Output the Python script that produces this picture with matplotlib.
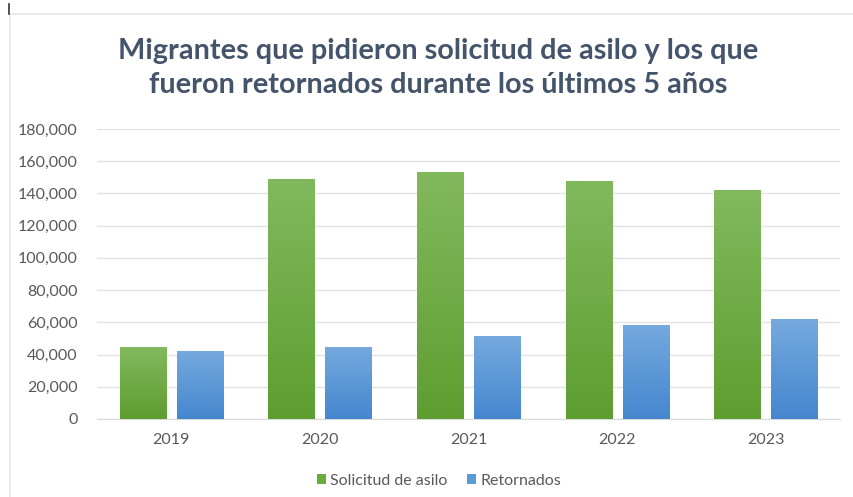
import matplotlib
matplotlib.use("Agg")
import matplotlib.pyplot as plt
import numpy as np
from matplotlib.colors import LinearSegmentedColormap
from matplotlib.lines import Line2D
from matplotlib.patches import Patch

years = ["2019", "2020", "2021", "2022", "2023"]
solicitud = [45000, 149000, 153000, 148000, 142000]
retornados = [42000, 45000, 51500, 58500, 62000]
yticks = [0, 20000, 40000, 60000, 80000, 100000, 120000, 140000, 160000, 180000]

title = "Migrantes que pidieron solicitud de asilo y los que\nfueron retornados durante los últimos 5 años"

plt.rcParams['font.family'] = ['Lato', 'DejaVu Sans']

fig = plt.figure(figsize=(8.54, 4.97), dpi=100)
fig.patch.set_facecolor("white")
ax = fig.add_axes([97/854, 1 - 419/497, (840 - 97)/854, (419 - 129)/497])

x = np.arange(len(years))
w = 0.31
gap = 0.074
off = (w + gap) / 2
green_cmap = LinearSegmentedColormap.from_list("g", ["#82B95D", "#5E9E30"])
blue_cmap = LinearSegmentedColormap.from_list("b", ["#75A9DE", "#4587CF"])

b1 = ax.bar(x - off, solicitud, w, color="#6AAB3E", zorder=2)
b2 = ax.bar(x + off, retornados, w, color="#5B9BD5", zorder=2)

grad = np.linspace(0, 1, 256).reshape(-1, 1)
for bars, cmap in ((b1, green_cmap), (b2, blue_cmap)):
    for p in bars:
        x0, y0 = p.get_x(), p.get_y()
        x1, y1 = x0 + p.get_width(), y0 + p.get_height()
        im = ax.imshow(grad, cmap=cmap, extent=(x0, x1, y0, y1), aspect="auto",
                       origin="upper", zorder=3)
        im.set_clip_path(p)

ax.set_xlim(-0.5, len(years) - 0.5)
ax.set_ylim(0, 180000)
ax.set_yticks(yticks)
ax.set_yticklabels([f"{v:,}" for v in yticks])
ax.set_xticks(x)
ax.set_xticklabels(years)
ax.tick_params(axis="both", length=0, labelsize=11.5, labelcolor="#595959")
ax.tick_params(axis="y", pad=14)
ax.tick_params(axis="x", pad=10)
ax.grid(axis="y", color="#E3E3E3", linewidth=1, zorder=0)
for s in ["top", "right", "left"]:
    ax.spines[s].set_visible(False)
ax.spines["bottom"].set_color("#D9D9D9")

fig.text(438/854, 1 - 68/497, title, ha="center", va="center", fontsize=20.8,
         fontweight="bold", color="#44546A", linespacing=1.35)

handles = [Patch(facecolor="#6AAB3E", label="Solicitud de asilo"),
           Patch(facecolor="#5B9BD5", label="Retornados")]
fig.legend(handles=handles, loc="center", bbox_to_anchor=(439/854, 1 - 481/497),
           ncol=2, frameon=False, fontsize=11.5, labelcolor="#595959",
           handlelength=0.6, handleheight=0.6, handletextpad=0.25, columnspacing=1.2)

# frame lines
fig.add_artist(Line2D([10/854, 1], [1 - 14/497, 1 - 14/497], color="#E6E6E6", lw=1.2))
fig.add_artist(Line2D([10/854, 10/854], [0, 1 - 14/497], color="#E6E6E6", lw=1.2))
fig.add_artist(Line2D([9/854, 9/854], [1 - 4/497, 1 - 14/497], color="#333333", lw=1.2))

fig.savefig("out.png", dpi=100, facecolor="white")
